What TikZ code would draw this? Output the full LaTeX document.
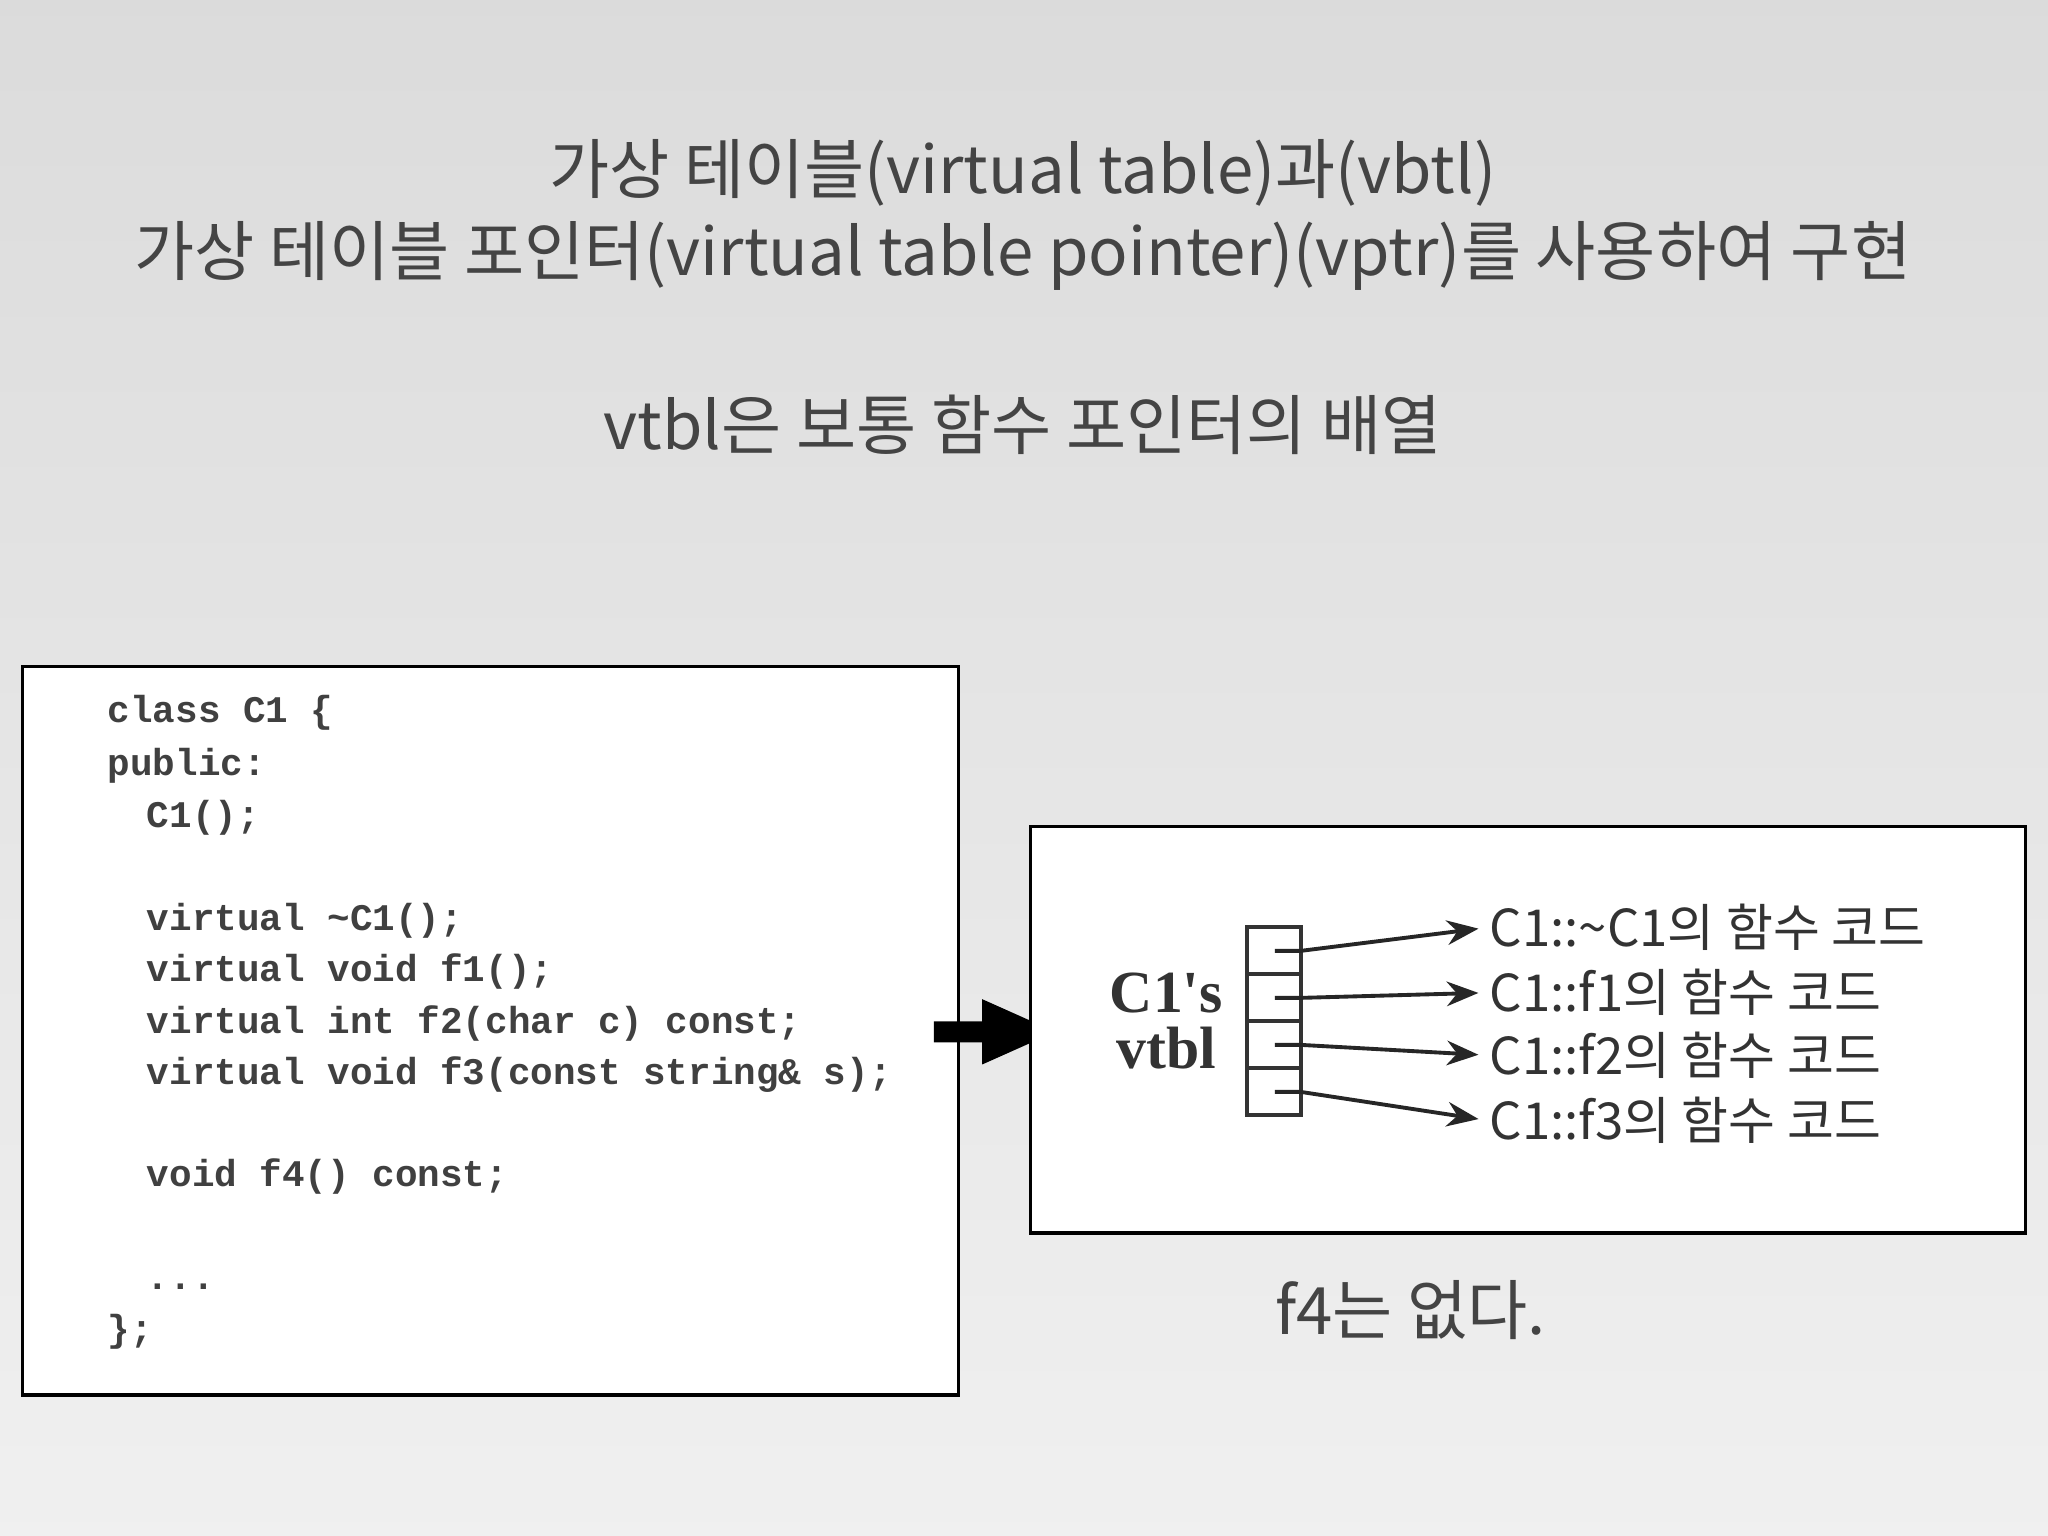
\documentclass[tikz,border=0pt]{standalone}
\usepackage{fontspec}
\setmainfont{Noto Sans CJK KR}
\newfontfamily\kr{Noto Sans CJK KR}
\newfontfamily\codef{Liberation Mono}
\newfontfamily\serifb{Liberation Serif}
\usetikzlibrary{arrows.meta}
\definecolor{txt}{HTML}{444444}
\tikzset{
  codeline/.style={anchor=west,font=\codef\bfseries\fontsize{10.7}{12}\selectfont,text=black!75,inner sep=0},
  title/.style={font=\kr\fontsize{18.6}{22}\selectfont,text=txt},
  lab/.style={anchor=west,font=\kr\fontsize{14.5}{16}\selectfont,text=black!80,inner sep=0},
  ptr/.style={-{Stealth[length=9pt,width=7pt]},line width=1.1pt,black!85,shorten >=3pt},
  frame/.style={draw=black,line width=0.9pt,fill=white}
}
\begin{document}
\begin{tikzpicture}[x=0.013061cm,y=-0.013061cm]
\shade[top color=black!14,bottom color=black!6] (0,0) rectangle (1568,1176);
\useasboundingbox (0,0) rectangle (1568,1176);
\node[title] (t1) at (783,132) {가상 테이블(virtual table)과(vbtl)};
\node[title] (t2) at (783,196) {가상 테이블 포인터(virtual table pointer)(vptr)를 사용하여 구현};
\node[title] (t3) at (783,325) {vtbl은 보통 함수 포인터의 배열};
% code box
\draw[frame] (17,510) rectangle (734,1068);
\node[codeline] (c1) at (82,546) {class C1 \{};
\node[codeline] (c2) at (82,586) {public:};
\node[codeline] (c3) at (112,626) {C1();};
\node[codeline] (c4) at (112,705) {virtual \textasciitilde C1();};
\node[codeline] (c5) at (112,744) {virtual void f1();};
\node[codeline] (c6) at (112,784) {virtual int f2(char c) const;};
\node[codeline] (c7) at (112,823) {virtual void f3(const string\& s);};
\node[codeline] (c8) at (112,901) {void f4() const;};
\node[codeline] (c9) at (112,985) {...};
\node[codeline] (c10) at (82,1020) {\};};
% big arrow
\fill[black] (715,782) -- (752,782) -- (752,765) -- (808,790) -- (752,815) -- (752,798) -- (715,798) -- cycle;
% right box
\draw[frame] (789,633) rectangle (1551,944);
\node[font=\serifb\bfseries\fontsize{17}{19}\selectfont,text=black!80,align=center] (vt) at (893,782) {C1's\\[-3pt]vtbl};
\foreach \i/\y in {0/710,1/746,2/782,3/818}{
  \draw[line width=1.1pt,black!80] (955,\y) rectangle (996,\y+36);
  \coordinate (s\i) at (976,\y+18);
  \draw[line width=1.1pt,black!80] (s\i) -- (996,\y+18);
}
\node[lab] (l0) at (1140,710) {C1::\textasciitilde C1의 함수 코드};
\node[lab] (l1) at (1140,760) {C1::f1의 함수 코드};
\node[lab] (l2) at (1140,808) {C1::f2의 함수 코드};
\node[lab] (l3) at (1140,858) {C1::f3의 함수 코드};
\draw[ptr] (s0) -- ++(20,0) -- (l0.west);
\draw[ptr] (s1) -- ++(20,0) -- (l1.west);
\draw[ptr] (s2) -- ++(20,0) -- (l2.west);
\draw[ptr] (s3) -- ++(20,0) -- (l3.west);
\node[title] (f4) at (1080,1003) {f4는 없다.};
\end{tikzpicture}
\end{document}
